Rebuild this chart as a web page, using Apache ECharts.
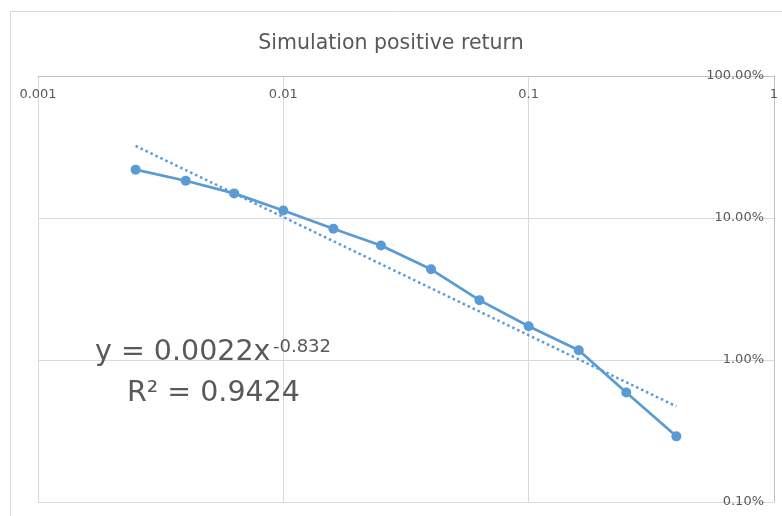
<!DOCTYPE html>
<html>
<head>
<meta charset="utf-8">
<style>
  html, body { margin: 0; padding: 0; background: #ffffff; }
  #chart { width: 782px; height: 516px; }
</style>
<script src="https://cdn.jsdelivr.net/npm/echarts@6/dist/echarts.min.js"></script>
</head>
<body>
<div id="chart"></div>
<script>
// Probability threshold (x) and share of simulations with a positive return (y, as a fraction)
const xValues = [0.0025, 0.004, 0.0063, 0.01, 0.016, 0.025, 0.04, 0.063, 0.1, 0.16, 0.25, 0.4];
const yValues = [0.219, 0.183, 0.149, 0.113, 0.084, 0.064, 0.0435, 0.0264, 0.0173, 0.0117, 0.0059, 0.0029];

// Power-law trendline y = a * x^b, as fitted
const trendA = 0.0022;
const trendB = -0.832;
const trendR2 = 0.9424;

// Axis tick labels (log scale, one per decade)
const xTicks = [0.001, 0.01, 0.1, 1];
const yTicks = [0.001, 0.01, 0.1, 1];

const FONT = '"DejaVu Sans", Verdana, sans-serif';
const TEXT = '#595959';
const GRID = '#d9d9d9';
const BLUE = '#5b9bd5';

const seriesData = xValues.map((x, i) => [x, yValues[i]]);
// A power law is a straight line on log-log axes: its two end points suffice
const trendX = [xValues[0], xValues[xValues.length - 1]];
const trendData = trendX.map(x => [x, trendA * Math.pow(x, trendB)]);

function fmtX(v) {
  return String(Number(v.toPrecision(3)));
}
function fmtY(v) {
  return (v * 100).toFixed(2) + '%';
}

const chart = echarts.init(document.getElementById('chart'), null, { renderer: 'canvas' });

chart.setOption({
  animation: false,
  backgroundColor: '#ffffff',
  title: {
    text: 'Simulation positive return',
    left: 'center',
    top: 28,
    textStyle: { fontFamily: FONT, fontSize: 20.5, fontWeight: 'normal', color: TEXT }
  },
  grid: { left: 38, right: 8, top: 76, bottom: 14, show: false },
  xAxis: {
    type: 'log',
    logBase: 10,
    min: xTicks[0],
    max: xTicks[xTicks.length - 1],
    position: 'top',
    axisLine: { show: true, lineStyle: { color: '#bfbfbf', width: 1 } },
    axisTick: { show: false },
    minorTick: { show: false },
    splitLine: { show: true, lineStyle: { color: GRID, width: 1 } },
    axisLabel: {
      inside: true,
      margin: 12,
      fontFamily: FONT,
      fontSize: 13,
      color: TEXT,
      showMinLabel: true,
      showMaxLabel: true,
      formatter: fmtX
    }
  },
  yAxis: {
    type: 'log',
    logBase: 10,
    min: yTicks[0],
    max: yTicks[yTicks.length - 1],
    position: 'right',
    axisLine: { show: true, lineStyle: { color: '#bfbfbf', width: 1 } },
    axisTick: { show: false },
    minorTick: { show: false },
    splitLine: { show: true, lineStyle: { color: GRID, width: 1 } },
    axisLabel: {
      inside: true,
      margin: 10,
      fontFamily: FONT,
      fontSize: 13,
      color: TEXT,
      showMinLabel: true,
      showMaxLabel: true,
      formatter: fmtY
    }
  },
  series: [
    {
      name: 'Simulation',
      type: 'line',
      data: seriesData,
      symbol: 'circle',
      symbolSize: 10,
      itemStyle: { color: BLUE },
      lineStyle: { color: BLUE, width: 2.75 },
      z: 3
    },
    {
      name: 'Power trendline',
      type: 'line',
      data: trendData,
      symbol: 'none',
      lineStyle: { color: BLUE, width: 2.5, type: [2.5, 3] },
      z: 2
    }
  ],
  graphic: [
    {
      type: 'rect',
      shape: { x: 10.5, y: 11.5, width: 800, height: 600 },
      style: { fill: null, stroke: GRID, lineWidth: 1 },
      silent: true,
      z: -1
    },
    {
      type: 'text',
      x: 95,
      y: 353,
      style: { text: 'y = 0.0022x', font: '28.5px ' + FONT, fill: TEXT, align: 'left', verticalAlign: 'middle' },
      z: 10
    },
    {
      type: 'text',
      x: 273,
      y: 347,
      style: { text: String(trendB), font: '18px ' + FONT, fill: TEXT, align: 'left', verticalAlign: 'middle' },
      z: 10
    },
    {
      type: 'text',
      x: 127,
      y: 394,
      style: { text: 'R\u00b2 = ' + trendR2.toFixed(4), font: '28.5px ' + FONT, fill: TEXT, align: 'left', verticalAlign: 'middle' },
      z: 10
    }
  ]
});
</script>
</body>
</html>
